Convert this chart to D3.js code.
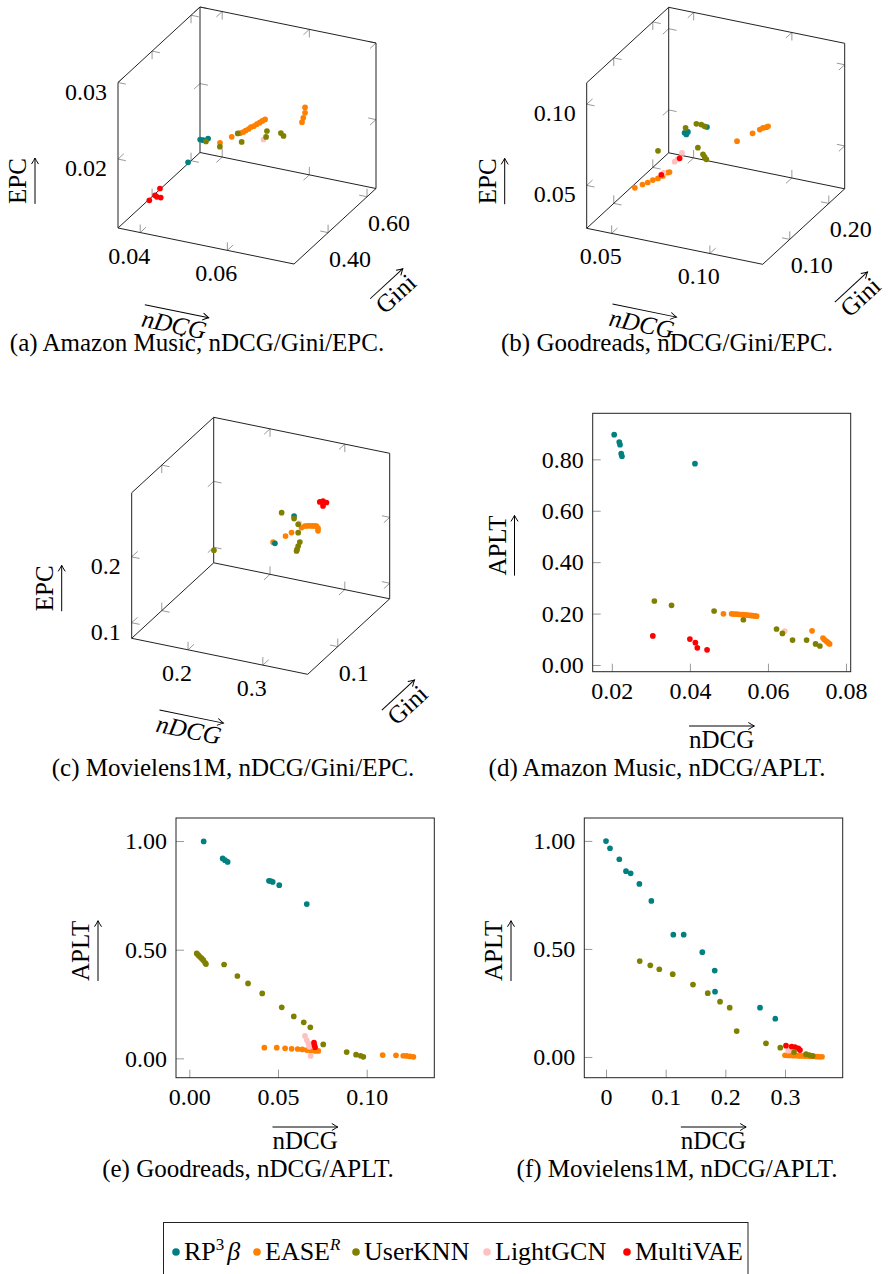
<!DOCTYPE html>
<html>
<head>
<meta charset="utf-8">
<script src="https://cdn.jsdelivr.net/npm/d3@7"></script>
<style>
  body { margin: 0; background: #fff; }
  svg text { font-family: "Liberation Serif", "Times New Roman", serif; fill: #000; }
</style>
</head>
<body>
<svg id="fig" width="888" height="1274"></svg>
<script>
// models, legend order and colours
const models = ["RP3β", "EASE", "UserKNN", "LightGCN", "MultiVAE"];
const colors = ["#008080", "#ff8000", "#808000", "#ffc0c0", "#ff0000"];
// series are painted in this order (later ones sit on top)
const drawOrder = ["EASE", "LightGCN", "MultiVAE", "RP3β", "UserKNN"];

// ---- 3D panels: [nDCG, Gini, EPC] ----
// (a) Amazon Music
const amz3dRP3 = [[0.0387,0.562,0.0151],[0.0394,0.562,0.0151],[0.0406,0.560,0.0155],[0.0378,0.520,0.0130]];
const amz3dEASE = [[0.0470,0.478,0.0176],[0.0497,0.478,0.0187],[0.0516,0.478,0.0194],[0.0523,0.479,0.0196],
  [0.0529,0.478,0.0199],[0.0536,0.477,0.0202],[0.0541,0.478,0.0205],[0.0548,0.478,0.0207],[0.0554,0.479,0.0210],
  [0.0561,0.478,0.0213],[0.0567,0.478,0.0216],[0.0574,0.477,0.0219],
  [0.0677,0.436,0.0237],[0.0680,0.436,0.0243],[0.0684,0.436,0.0250],[0.0684,0.436,0.0257]];
const amz3dKNN = [[0.0419,0.520,0.0162],[0.0451,0.520,0.0159],[0.0492,0.520,0.0181],[0.0501,0.520,0.0171],
  [0.0559,0.520,0.0192],[0.0557,0.520,0.0184],[0.0591,0.520,0.0193],[0.0597,0.520,0.0190]];
const amz3dGCN = [[0.0551,0.520,0.0180]];
const amz3dVAE = [[0.0353,0.377,0.0111],[0.0355,0.402,0.0112],[0.0355,0.427,0.0115],[0.0372,0.393,0.0113],[0.0363,0.393,0.0113]];

// (b) Goodreads
const gr3dRP3 = [[0.0495,0.220,0.0435],[0.0512,0.220,0.0445],[0.0504,0.220,0.0427],[0.0609,0.220,0.0499]];
const gr3dEASE = [[0.0397,0.142,0.0245],[0.0414,0.153,0.0245],[0.0427,0.160,0.0245],[0.0437,0.168,0.0245],
  [0.0451,0.174,0.0245],[0.0460,0.182,0.0245],[0.0465,0.192,0.0245],[0.0470,0.194,0.0245],
  [0.0929,0.136,0.0677],[0.1008,0.136,0.0745],[0.1045,0.136,0.0777],[0.1061,0.136,0.0791],[0.1079,0.136,0.0800],[0.1087,0.136,0.0808]];
const gr3dKNN = [[0.0500,0.220,0.0467],[0.0555,0.220,0.0505],[0.0580,0.220,0.0507],[0.0597,0.220,0.0500],
  [0.0485,0.157,0.0461],[0.0688,0.157,0.0531],[0.0714,0.157,0.0496],[0.0722,0.157,0.0482],[0.0731,0.157,0.0470]];
const gr3dGCN = [[0.0462,0.230,0.0281],[0.0444,0.220,0.0245],[0.0451,0.224,0.0254],[0.0455,0.186,0.0254]];
const gr3dVAE = [[0.0448,0.184,0.0245],[0.0450,0.230,0.0245]];

// (c) Movielens1M
const ml3dRP3 = [[0.2760,0.135,0.2284],[0.2504,0.135,0.1809]];
const ml3dEASE = [[0.2480,0.135,0.1822],[0.2646,0.135,0.1953],[0.2726,0.135,0.2024],[0.2859,0.135,0.2131],
  [0.2904,0.135,0.2165],[0.2937,0.135,0.2176],[0.2970,0.135,0.2183],[0.3003,0.135,0.2190],[0.3036,0.135,0.2198],
  [0.3059,0.135,0.2200],[0.3080,0.135,0.2173],[0.3080,0.135,0.2133]];
const ml3dKNN = [[0.1294,0.189,0.1011],[0.2594,0.135,0.2296],[0.2760,0.135,0.2245],[0.2815,0.135,0.2171],
  [0.2815,0.135,0.2044],[0.2837,0.135,0.1907],[0.2815,0.135,0.1840],[0.2800,0.135,0.1786],[0.2793,0.135,0.1760]];
const ml3dGCN = [[0.2828,0.135,0.2188]];
const ml3dVAE = [[0.3104,0.135,0.2577],[0.3147,0.135,0.2601],[0.3193,0.135,0.2589],[0.3147,0.135,0.2527]];

// ---- 2D panels: [nDCG, APLT] ----
// (d) Amazon Music
const amzRP3 = [[0.0206,0.896],[0.0219,0.867],[0.0221,0.857],[0.0224,0.822],[0.0226,0.812],[0.0413,0.783]];
const amzEASE = [[0.0486,0.199],[0.0507,0.199],[0.0513,0.198],[0.0519,0.198],[0.0525,0.197],[0.0531,0.196],
  [0.0537,0.196],[0.0543,0.195],[0.0549,0.194],[0.0555,0.193],[0.0560,0.192],[0.0566,0.191],[0.0571,0.190],
  [0.0713,0.133],[0.0741,0.105],[0.0745,0.098],[0.0750,0.092],[0.0754,0.087],[0.0758,0.082]];
const amzKNN = [[0.0309,0.249],[0.0353,0.232],[0.0462,0.210],[0.0537,0.176],[0.0622,0.140],[0.0637,0.123],
  [0.0663,0.097],[0.0699,0.097],[0.0722,0.082],[0.0733,0.074]];
const amzGCN = [[0.0643,0.132]];
const amzVAE = [[0.0305,0.113],[0.0400,0.101],[0.0414,0.087],[0.0419,0.067],[0.0444,0.059]];

// (e) Goodreads
const grRP3 = [[0.0081,0.998],[0.0188,0.920],[0.0201,0.912],[0.0216,0.904],[0.0449,0.817],[0.0459,0.816],
  [0.0470,0.812],[0.0507,0.797],[0.0662,0.710]];
const grEASE = [[0.0423,0.049],[0.0493,0.049],[0.0540,0.046],[0.0577,0.044],[0.0611,0.043],[0.0637,0.041],
  [0.0662,0.038],[0.0684,0.035],[0.0709,0.034],[0.0727,0.034],[0.1090,0.015],[0.1165,0.014],[0.1206,0.012],
  [0.1225,0.011],[0.1244,0.009],[0.1263,0.007]];
const grKNN = [[0.0042,0.483],[0.0051,0.475],[0.0060,0.467],[0.0070,0.460],[0.0079,0.452],[0.0089,0.440],
  [0.0094,0.434],[0.0196,0.432],[0.0271,0.379],[0.0331,0.345],[0.0411,0.299],[0.0521,0.235],[0.0589,0.193],
  [0.0645,0.166],[0.0682,0.143],[0.0755,0.064],[0.0887,0.029],[0.0940,0.017],[0.0966,0.012],[0.0981,0.007]];
const grGCN = [[0.0652,0.103],[0.0662,0.084],[0.0671,0.069],[0.0676,0.053],[0.0684,0.011]];
const grVAE = [[0.0703,0.072],[0.0705,0.061],[0.0709,0.051]];

// (f) Movielens1M
const mlRP3 = [[0.0000,0.999],[0.0067,0.966],[0.0223,0.915],[0.0335,0.860],[0.0413,0.850],[0.0559,0.801],
  [0.0760,0.722],[0.1128,0.566],[0.1302,0.566],[0.1614,0.485],[0.1822,0.400],[0.1827,0.302],[0.2581,0.228],[0.2837,0.177]];
const mlEASE = [[0.300,0.008],[0.305,0.007],[0.310,0.007],[0.315,0.006],[0.321,0.006],[0.325,0.005],[0.330,0.005],
  [0.334,0.004],[0.339,0.004],[0.342,0.003],[0.346,0.003],[0.351,0.002],[0.354,0.002],[0.358,0.001],[0.362,0.001]];
const mlKNN = [[0.0565,0.444],[0.0742,0.424],[0.0893,0.406],[0.1118,0.383],[0.1458,0.335],[0.1705,0.295],
  [0.1911,0.256],[0.2073,0.228],[0.2190,0.120],[0.2681,0.063],[0.2921,0.043],[0.3151,0.023],[0.3352,0.013],
  [0.3408,0.009],[0.3464,0.005]];
const mlGCN = [[0.3055,0.029]];
const mlVAE = [[0.3017,0.052],[0.3112,0.048],[0.3167,0.046],[0.3223,0.040],[0.3251,0.032]];

// ---- axis ranges and ticks ----
const amz3dRange = [[0.0349,0.0753],[0.225,0.646],[0.0110,0.0300]];
const gr3dRange = [[0.0373,0.1269],[0.0307,0.2407],[0.0236,0.1132]];
const ml3dRange = [[0.1247,0.3600],[0.045,0.195],[0.0764,0.2972]];
const amz3dTicks = [[0.04,0.06],[0.40,0.60],[0.02,0.03]];
const amz3dTickLabels = [["0.04","0.06"],["0.40","0.60"],["0.02","0.03"]];
const gr3dTicks = [[0.05,0.10],[0.10,0.20],[0.05,0.10]];
const gr3dTickLabels = [["0.05","0.10"],["0.10","0.20"],["0.05","0.10"]];
const ml3dTicks = [[0.2,0.3],[0.1],[0.1,0.2]];
const ml3dTickLabels = [["0.2","0.3"],["0.1"],["0.1","0.2"]];

const amzRange = [[0.0151,0.0812],[-0.026,0.979]];
const grRange = [[-0.0075,0.1381],[-0.089,1.106]];
const mlRange = [[-0.0364,0.3967],[-0.096,1.106]];
const amzXTicks = [0.02,0.04,0.06,0.08], amzXLabels = ["0.02","0.04","0.06","0.08"];
const amzYTicks = [0,0.2,0.4,0.6,0.8], amzYLabels = ["0.00","0.20","0.40","0.60","0.80"];
const grXTicks = [0,0.05,0.10], grXLabels = ["0.00","0.05","0.10"];
const grYTicks = [0,0.5,1.0], grYLabels = ["0.00","0.50","1.00"];
const mlXTicks = [0,0.1,0.2,0.3], mlXLabels = ["0","0.1","0.2","0.3"];
const mlYTicks = [0,0.5,1.0], mlYLabels = ["0.00","0.50","1.00"];

const captions = ["(a) Amazon Music, nDCG/Gini/EPC.", "(b) Goodreads, nDCG/Gini/EPC.",
  "(c) Movielens1M, nDCG/Gini/EPC.", "(d) Amazon Music, nDCG/APLT.",
  "(e) Goodreads, nDCG/APLT.", "(f) Movielens1M, nDCG/APLT."];

const svg = d3.select("#fig");
svg.append("rect").attr("width", 888).attr("height", 1274).attr("fill", "#fff");
const color = d3.scaleOrdinal().domain(models).range(colors);
const R = 2.85;

// small LaTeX-like arrow along local x axis
function arrow(g, x1, x2, y) {
  g.append("line").attr("x1", x1).attr("x2", x2).attr("y1", y).attr("y2", y)
    .attr("stroke", "#000").attr("stroke-width", 1);
  g.append("path")
    .attr("d", `M${x2-6},${y-3.5} Q${x2-2},${y-1} ${x2},${y} Q${x2-2},${y+1} ${x2-6},${y+3.5}`)
    .attr("fill", "none").attr("stroke", "#000").attr("stroke-width", 1);
}

// axis title with an arrow above (negative ay) or below (positive ay)
function arrowLabel(cx, cy, angle, label, italic, ay) {
  const g = svg.append("g").attr("transform", `translate(${cx},${cy}) rotate(${angle})`);
  const t = g.append("text").attr("text-anchor", "middle").attr("y", 8)
    .attr("font-size", 25).attr("font-style", italic ? "italic" : "normal").text(label);
  const w = t.node().getComputedTextLength();
  arrow(g, -w / 2, w / 2, ay);
}

function caption(cx, y, s) {
  svg.append("text").attr("x", cx).attr("y", y).attr("text-anchor", "middle")
    .attr("font-size", 25).text(s);
}

// ---- 3D cube (fixed view) ----
const VX = [176, 36], VY = [82, -75.5], VZ = [0, -145.5];
const unit = v => { const l = Math.hypot(v[0], v[1]); return [v[0] / l, v[1] / l]; };
const neg = v => [-v[0], -v[1]];
const uX = unit(VX), uY = unit(VY), uZ = unit(VZ);

function draw3d(p) {
  const sx = d3.scaleLinear().domain(p.range[0]).range([0, 1]);
  const sy = d3.scaleLinear().domain(p.range[1]).range([0, 1]);
  const sz = d3.scaleLinear().domain(p.range[2]).range([0, 1]);
  const P = (a, b, c) => [p.o[0] + a * VX[0] + b * VY[0], p.o[1] + a * VX[1] + b * VY[1] + c * VZ[1]];
  const g = svg.append("g");
  const TL = 8;

  const tick = (pt, dirs) => dirs.forEach(d => g.append("line")
    .attr("x1", pt[0]).attr("y1", pt[1]).attr("x2", pt[0] + d[0] * TL).attr("y2", pt[1] + d[1] * TL)
    .attr("stroke", "#999").attr("stroke-width", 1));

  p.ticks[0].forEach(t => { const a = sx(t);
    tick(P(a, 0, 0), [uY, uZ]); tick(P(a, 1, 0), [neg(uY), uZ]); tick(P(a, 1, 1), [neg(uY), neg(uZ)]); });
  p.ticks[1].forEach(t => { const b = sy(t);
    tick(P(0, b, 0), [uX, uZ]); tick(P(1, b, 0), [neg(uX), uZ]); tick(P(0, b, 1), [uX, neg(uZ)]); });
  p.ticks[2].forEach(t => { const c = sz(t);
    tick(P(0, 0, c), [uX, uY]); tick(P(0, 1, c), [uX, neg(uY)]); tick(P(1, 1, c), [neg(uX), neg(uY)]); });

  // edges of the three back planes
  const edges = [
    [[0,0,0],[1,0,0]], [[0,1,0],[1,1,0]], [[0,1,1],[1,1,1]],
    [[0,0,0],[0,1,0]], [[1,0,0],[1,1,0]], [[0,0,1],[0,1,1]],
    [[0,0,0],[0,0,1]], [[0,1,0],[0,1,1]], [[1,1,0],[1,1,1]]
  ];
  edges.forEach(([u, v]) => {
    const a = P(...u), b = P(...v);
    g.append("line").attr("x1", a[0]).attr("y1", a[1]).attr("x2", b[0]).attr("y2", b[1])
      .attr("stroke", "#222").attr("stroke-width", 1);
  });

  // tick labels
  p.ticks[0].forEach((t, i) => { const q = P(sx(t), 0, 0);
    g.append("text").attr("x", q[0] - 11).attr("y", q[1] + 31).attr("text-anchor", "middle")
      .attr("font-size", 24).text(p.labels[0][i]); });
  p.ticks[1].forEach((t, i) => { const q = P(1, sy(t), 0);
    g.append("text").attr("x", q[0] + 1).attr("y", q[1] + 34).attr("text-anchor", "start")
      .attr("font-size", 24).text(p.labels[1][i]); });
  p.ticks[2].forEach((t, i) => { const q = P(0, 0, sz(t));
    g.append("text").attr("x", q[0] - 11).attr("y", q[1] + 17).attr("text-anchor", "end")
      .attr("font-size", 24).text(p.labels[2][i]); });

  // points
  drawOrder.forEach(m => {
    g.append("g").selectAll("circle").data(p.series[m]).join("circle")
      .attr("cx", d => P(sx(d[0]), sy(d[1]), sz(d[2]))[0])
      .attr("cy", d => P(sx(d[0]), sy(d[1]), sz(d[2]))[1])
      .attr("r", R).attr("fill", color(m));
  });

  // axis titles
  const o = p.o;
  arrowLabel(o[0] + p.nd[0], o[1] + p.nd[1], Math.atan2(VX[1], VX[0]) * 180 / Math.PI, "nDCG", true, -14);
  const c1 = P(1, 0, 0);
  arrowLabel(c1[0] + p.gi[0], c1[1] + p.gi[1], Math.atan2(VY[1], VY[0]) * 180 / Math.PI, "Gini", false, -14);
  arrowLabel(o[0] + p.ep[0], o[1] + p.ep[1], -90, "EPC", false, 17);
}

// ---- 2D scatter ----
function draw2d(p) {
  const [l, t, r, b] = p.box;
  const x = d3.scaleLinear().domain(p.range[0]).range([l, r]);
  const y = d3.scaleLinear().domain(p.range[1]).range([b, t]);
  const g = svg.append("g");

  const ax = g.append("g").attr("transform", `translate(0,${b})`)
    .call(d3.axisBottom(x).tickValues(p.xTicks).tickFormat((d, i) => p.xLabels[i]).tickSize(-8).tickPadding(10));
  const ay = g.append("g").attr("transform", `translate(${l},0)`)
    .call(d3.axisLeft(y).tickValues(p.yTicks).tickFormat((d, i) => p.yLabels[i]).tickSize(-8).tickPadding(9));
  [ax, ay].forEach(a => {
    a.attr("font-family", null);
    a.select(".domain").remove();
    a.selectAll("line").attr("stroke", "#999");
    a.selectAll("text").attr("font-size", 24).attr("fill", "#000");
  });

  g.append("rect").attr("x", l).attr("y", t).attr("width", r - l).attr("height", b - t)
    .attr("fill", "none").attr("stroke", "#222").attr("stroke-width", 1);

  drawOrder.forEach(m => {
    g.append("g").selectAll("circle").data(p.series[m]).join("circle")
      .attr("cx", d => x(d[0])).attr("cy", d => y(d[1]))
      .attr("r", R).attr("fill", color(m));
  });

  arrowLabel((l + r) / 2, p.xl, 0, "nDCG", false, -14);
  arrowLabel(p.yl, (t + b) / 2 + 3, -90, "APLT", false, 17);
}

draw3d({ o: [118, 228], range: amz3dRange, ticks: amz3dTicks, labels: amz3dTickLabels,
  series: { "RP3β": amz3dRP3, EASE: amz3dEASE, UserKNN: amz3dKNN, LightGCN: amz3dGCN, MultiVAE: amz3dVAE },
  nd: [56, 97], gi: [102, 30], ep: [-100, -47] });
draw3d({ o: [586.7, 228.3], range: gr3dRange, ticks: gr3dTicks, labels: gr3dTickLabels,
  series: { "RP3β": gr3dRP3, EASE: gr3dEASE, UserKNN: gr3dKNN, LightGCN: gr3dGCN, MultiVAE: gr3dVAE },
  nd: [55, 96], gi: [98, 33], ep: [-99, -47] });
draw3d({ o: [131.7, 638.3], range: ml3dRange, ticks: ml3dTicks, labels: ml3dTickLabels,
  series: { "RP3β": ml3dRP3, EASE: ml3dEASE, UserKNN: ml3dKNN, LightGCN: ml3dGCN, MultiVAE: ml3dVAE },
  nd: [57, 92], gi: [100, 31], ep: [-87, -50] });

draw2d({ box: [592.7, 413.3, 850.7, 671.7], range: amzRange, xTicks: amzXTicks, xLabels: amzXLabels,
  yTicks: amzYTicks, yLabels: amzYLabels, xl: 740, yl: 497.5,
  series: { "RP3β": amzRP3, EASE: amzEASE, UserKNN: amzKNN, LightGCN: amzGCN, MultiVAE: amzVAE } });
draw2d({ box: [176, 818, 434.3, 1077.7], range: grRange, xTicks: grXTicks, xLabels: grXLabels,
  yTicks: grYTicks, yLabels: grYLabels, xl: 1141, yl: 81,
  series: { "RP3β": grRP3, EASE: grEASE, UserKNN: grKNN, LightGCN: grGCN, MultiVAE: grVAE } });
draw2d({ box: [584.3, 818, 842.7, 1077.7], range: mlRange, xTicks: mlXTicks, xLabels: mlXLabels,
  yTicks: mlYTicks, yLabels: mlYLabels, xl: 1141, yl: 494,
  series: { "RP3β": mlRP3, EASE: mlEASE, UserKNN: mlKNN, LightGCN: mlGCN, MultiVAE: mlVAE } });

caption(197, 351, captions[0]);
caption(667, 351, captions[1]);
caption(233, 776, captions[2]);
caption(657, 776, captions[3]);
caption(248, 1177, captions[4]);
caption(677, 1177, captions[5]);

// ---- legend ----
const lg = svg.append("g");
lg.append("rect").attr("x", 163.5).attr("y", 1222.5).attr("width", 584.5).attr("height", 70)
  .attr("fill", "none").attr("stroke", "#222").attr("stroke-width", 1);
const ly = 1252;
const legendDotX = [176, 257, 356, 487, 627];
models.forEach((m, i) => {
  const lx = legendDotX[i];
  lg.append("circle").attr("cx", lx).attr("cy", ly).attr("r", 3.8).attr("fill", color(m));
  const t = lg.append("text").attr("x", lx + 8).attr("y", ly + 8).attr("font-size", 26);
  if (m === "RP3β") {
    t.append("tspan").text("RP");
    t.append("tspan").attr("font-size", 17).attr("dy", -10).text("3");
    t.append("tspan").attr("dy", 10).attr("dx", 3).attr("font-style", "italic").text("β");
  } else if (m === "EASE") {
    t.append("tspan").text("EASE");
    t.append("tspan").attr("font-size", 17).attr("dy", -10).attr("font-style", "italic").text("R");
  } else {
    t.text(m);
  }
});
</script>
</body>
</html>
